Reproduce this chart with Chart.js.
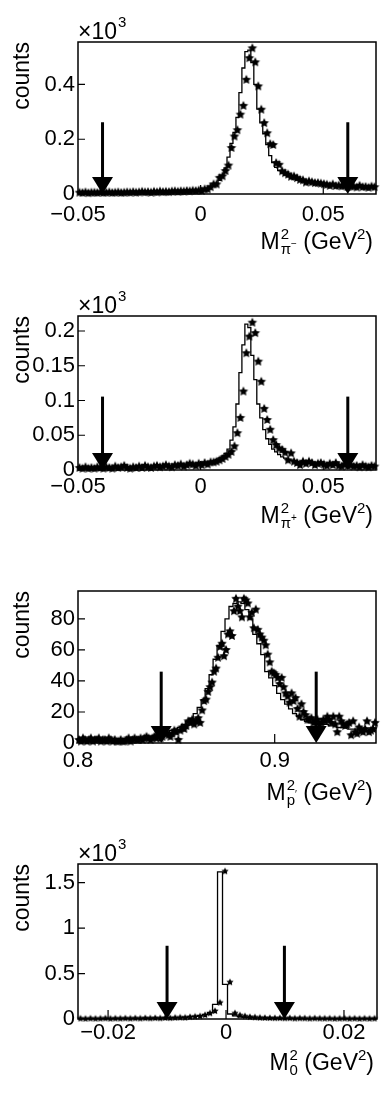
<!DOCTYPE html>
<html><head><meta charset="utf-8">
<script src="https://cdn.jsdelivr.net/npm/chart.js@4.4.0/dist/chart.umd.min.js"></script>
<style>
html,body{margin:0;padding:0;background:#fff;}
body{width:382px;height:1098px;position:relative;overflow:hidden;}
canvas{position:absolute;left:0;}
</style></head><body>
<canvas id="c1" width="382" height="270" style="top:0px;width:382px;height:270px"></canvas>
<canvas id="c2" width="382" height="270" style="top:270px;width:382px;height:270px"></canvas>
<canvas id="c3" width="382" height="280" style="top:540px;width:382px;height:280px"></canvas>
<canvas id="c4" width="382" height="278" style="top:820px;width:382px;height:278px"></canvas>
<script>
// ---------- Panel 1 : M^2(pi-) ----------
const p1Range = [-0.05, 0.0715];
const p1Hist = [
0.004,0.004,0.005,0.004,0.005,0.004,0.005,0.005,0.004,0.005,
0.005,0.005,0.006,0.005,0.005,0.006,0.005,0.006,0.006,0.006,
0.006,0.006,0.007,0.006,0.007,0.007,0.007,0.008,0.007,0.008,
0.008,0.008,0.009,0.009,0.009,0.010,0.010,0.011,0.011,0.012,
0.012,0.013,0.015,0.017,0.020,0.024,0.030,0.038,0.050,0.068,
0.095,0.135,0.185,0.225,0.280,0.370,0.460,0.520,0.525,0.480,
0.400,0.310,0.260,0.220,0.180,0.140,0.115,0.097,0.085,0.076,
0.069,0.063,0.058,0.054,0.051,0.048,0.046,0.044,0.042,0.040,
0.039,0.037,0.036,0.035,0.034,0.033,0.032,0.031,0.030,0.030,
0.029,0.028,0.028,0.027,0.027,0.026,0.026,0.025,0.025,0.024];
const p1Data = [
0.005,0.004,0.006,0.003,0.005,0.005,0.004,0.006,0.004,0.005,
0.006,0.004,0.005,0.006,0.004,0.005,0.006,0.005,0.007,0.005,
0.006,0.008,0.006,0.007,0.005,0.008,0.006,0.009,0.007,0.008,
0.007,0.009,0.010,0.008,0.010,0.009,0.011,0.010,0.012,0.011,
0.013,0.011,0.017,0.017,0.025,0.035,0.035,0.059,0.065,0.084,
0.104,0.168,0.210,0.233,0.290,0.322,0.417,0.496,0.532,0.481,
0.393,0.308,0.259,0.222,0.182,0.179,0.113,0.107,0.083,0.076,
0.071,0.063,0.064,0.058,0.052,0.050,0.042,0.046,0.043,0.040,
0.040,0.038,0.036,0.034,0.030,0.035,0.029,0.031,0.028,0.030,
0.026,0.028,0.027,0.024,0.030,0.025,0.026,0.023,0.027,0.025];
const p1XTicks = [-0.05, 0, 0.05];
const p1XLabels = ['\u22120.05', '0', '0.05'];
const p1YTicks = [0, 0.2, 0.4];
const p1YLabels = ['0', '0.2', '0.4'];
const p1YMax = 0.555;
const p1Arrows = [-0.04, 0.06];
const p1ArrowTop = 0.262;

// ---------- Panel 2 : M^2(pi+) ----------
const p2Range = [-0.05, 0.0715];
const p2Hist = [
0.002,0.003,0.002,0.003,0.002,0.003,0.003,0.002,0.003,0.003,
0.003,0.003,0.004,0.003,0.003,0.004,0.003,0.004,0.004,0.004,
0.004,0.004,0.005,0.004,0.005,0.005,0.005,0.005,0.005,0.006,
0.006,0.006,0.006,0.007,0.007,0.007,0.007,0.007,0.007,0.007,
0.007,0.008,0.008,0.009,0.010,0.011,0.013,0.015,0.017,0.020,
0.024,0.030,0.043,0.062,0.095,0.140,0.180,0.210,0.205,0.165,
0.130,0.095,0.075,0.058,0.045,0.037,0.030,0.026,0.022,0.019,
0.017,0.015,0.014,0.013,0.012,0.011,0.011,0.010,0.010,0.009,
0.009,0.008,0.008,0.008,0.007,0.007,0.007,0.007,0.006,0.006,
0.006,0.006,0.006,0.005,0.005,0.005,0.005,0.005,0.005,0.005];
const p2Data = [
0.003,0.002,0.004,0.002,0.003,0.002,0.004,0.003,0.002,0.004,
0.003,0.002,0.005,0.003,0.004,0.006,0.003,0.002,0.004,0.003,
0.005,0.003,0.006,0.004,0.003,0.005,0.006,0.004,0.005,0.007,
0.005,0.004,0.007,0.006,0.008,0.005,0.007,0.009,0.008,0.006,
0.009,0.007,0.010,0.008,0.011,0.011,0.012,0.014,0.016,0.019,
0.022,0.026,0.034,0.053,0.075,0.113,0.168,0.192,0.212,0.197,
0.156,0.127,0.088,0.072,0.058,0.043,0.036,0.031,0.029,0.025,
0.014,0.024,0.012,0.010,0.007,0.012,0.009,0.012,0.010,0.007,
0.009,0.010,0.008,0.006,0.009,0.007,0.010,0.006,0.005,0.008,
0.006,0.007,0.005,0.006,0.004,0.007,0.005,0.004,0.006,0.005];
const p2XTicks = [-0.05, 0, 0.05];
const p2XLabels = ['\u22120.05', '0', '0.05'];
const p2YTicks = [0, 0.05, 0.1, 0.15, 0.2];
const p2YLabels = ['0', '0.05', '0.1', '0.15', '0.2'];
const p2YMax = 0.2216;
const p2Arrows = [-0.04, 0.06];
const p2ArrowTop = 0.1056;

// ---------- Panel 3 : M^2(p') ----------
const p3Range = [0.8, 0.9515];
const p3Hist = [
2,2,2,2,2,2,2,2,2,2,
2,2,2,3,3,3,3,3,4,4,
5,5,6,7,8,9,10,12,14,16,
19,23,28,35,44,54,63,72,80,88,
90,91,90,86,80,70,64,57,46,42,
37,32,28,25,22,19,17,15,14,13,
13,12,12,12,11,11,10,10,10,9,
9,9,8,8,8];
const p3Data = [
2,1,3,2,1,2,3,1,2,2,
3,1,2,2,1,3,2,1,2,1,
1,2,1,1,2,3,1,2,3,2,
2,3,2,3,4,3,2,3,4,3,
5,3,4,7,6,5,4,6,8,7,
2,8,10,9,11,14,13,15,12,14,
16,13,21,27,28,33,36,39,46,48,
55,62,64,56,60,70,72,69,85,93,
88,85,81,93,92,90,81,84,74,86,
73,70,68,66,63,57,52,46,45,44,
42,38,42,36,32,30,26,32,27,29,
22,17,25,20,18,15,15,16,13,14,
15,12,13,15,14,17,15,13,17,12,
7,17,14,12,11,12,13,5,14,7,
6,10,8,7,9,14,7,8,9,13];
const p3XTicks = [0.8, 0.9];
const p3XLabels = ['0.8', '0.9'];
const p3YTicks = [0, 20, 40, 60, 80];
const p3YLabels = ['0', '20', '40', '60', '80'];
const p3YMax = 98;
const p3Arrows = [0.8423, 0.9211];
const p3ArrowTop = 46;

// ---------- Panel 4 : M^2(0) ----------
const p4Range = [-0.0251, 0.0256];
const p4Hist = [
0.004,0.004,0.004,0.005,0.005,0.005,0.005,0.005,0.006,0.006,
0.006,0.006,0.007,0.007,0.008,0.008,0.009,0.010,0.011,0.012,
0.014,0.016,0.019,0.023,0.028,0.036,0.048,0.070,0.160,1.620,
0.380,0.055,0.035,0.025,0.019,0.015,0.012,0.010,0.009,0.008,
0.008,0.007,0.007,0.006,0.006,0.006,0.005,0.005,0.005,0.005,
0.005,0.004,0.004,0.004,0.004,0.004,0.004,0.004,0.004,0.004];
const p4Data = [
0.005,0.003,0.006,0.004,0.005,0.007,0.004,0.006,0.005,0.007,
0.005,0.008,0.006,0.009,0.007,0.010,0.008,0.012,0.010,0.014,
0.016,0.015,0.022,0.026,0.030,0.044,0.063,0.088,0.180,1.626,
0.405,0.063,0.040,0.030,0.022,0.018,0.014,0.012,0.011,0.009,
0.010,0.008,0.009,0.006,0.008,0.007,0.005,0.007,0.006,0.005,
0.006,0.004,0.005,0.006,0.004,0.005,0.003,0.005,0.004,0.005];
const p4XTicks = [-0.02, 0, 0.02];
const p4XLabels = ['\u22120.02', '0', '0.02'];
const p4YTicks = [0, 0.5, 1, 1.5];
const p4YLabels = ['0', '0.5', '1', '1.5'];
const p4YMax = 1.706;
const p4Arrows = [-0.01, 0.0099];
const p4ArrowTop = 0.806;

// ---------- rendering ----------
const FONT = '"Liberation Sans", Arial, Helvetica, sans-serif';
Chart.defaults.font.family = FONT;
Chart.defaults.color = '#000';
const F = s => s + 'px ' + FONT;

function makeStar(r) {
  const s = Math.ceil(r * 2) + 2;
  const c = document.createElement('canvas');
  c.width = s; c.height = s;
  const g = c.getContext('2d');
  g.fillStyle = '#000';
  g.beginPath();
  for (let k = 0; k < 10; k++) {
    const rr = (k % 2) ? r * 0.5 : r;
    const a = -Math.PI / 2 + k * Math.PI / 5;
    g.lineTo(s / 2 + rr * Math.cos(a), s / 2 + rr * Math.sin(a));
  }
  g.closePath(); g.fill();
  return c;
}

function drawXTitle(ctx, right, base, sub, subSup) {
  ctx.save();
  ctx.fillStyle = '#000'; ctx.textAlign = 'left'; ctx.textBaseline = 'alphabetic';
  ctx.font = F(23);
  const wM = ctx.measureText('M').width, wRest = ctx.measureText(' (GeV').width, wPar = ctx.measureText(')').width;
  ctx.font = F(15);
  const wSup = ctx.measureText('2').width, wSub = ctx.measureText(sub).width;
  ctx.font = F(10);
  const wSS = subSup ? ctx.measureText(subSup).width : 0;
  const wMid = Math.max(wSup, wSub + wSS) + 1;
  let x = right - (wM + wMid + wRest + wSup + wPar);
  ctx.font = F(23); ctx.fillText('M', x, base); x += wM;
  ctx.font = F(15); ctx.fillText('2', x + 1, base - 10); ctx.fillText(sub, x + 1, base + 5);
  if (subSup) { ctx.font = F(10); ctx.fillText(subSup, x + 1 + wSub, base - 2); }
  x += wMid;
  ctx.font = F(23); ctx.fillText(' (GeV', x, base); x += wRest;
  ctx.font = F(15); ctx.fillText('2', x, base - 10); x += wSup;
  ctx.font = F(23); ctx.fillText(')', x, base);
  ctx.restore();
}

function buildPanel(id, cfg) {
  const [lo, hi] = cfg.range;
  const nH = cfg.hist.length, wH = (hi - lo) / nH;
  const histPts = cfg.hist.map((v, i) => ({x: lo + i * wH, y: v}));
  histPts.push({x: hi, y: cfg.hist[nH - 1]});
  const nD = cfg.data.length, wD = (hi - lo) / nD;
  const dataPts = cfg.data.map((v, i) => ({x: lo + (i + 0.5) * wD, y: v}));
  const star = makeStar(cfg.starR);

  const decor = {
    id: 'decor',
    afterDatasetsDraw(chart) {
      const {ctx, scales: {x, y}} = chart;
      ctx.save();
      ctx.fillStyle = '#000';
      const yb = y.getPixelForValue(0), yt = y.getPixelForValue(cfg.arrowTop);
      cfg.arrows.forEach(v => {
        const px = x.getPixelForValue(v);
        ctx.fillRect(px - 1.5, yt, 3, yb - 16 - yt);
        ctx.beginPath();
        ctx.moveTo(px - 10.5, yb - 17); ctx.lineTo(px + 10.5, yb - 17); ctx.lineTo(px, yb);
        ctx.closePath(); ctx.fill();
      });
      ctx.restore();
    },
    afterDraw(chart) {
      const {ctx, chartArea: a, scales: {x, y}} = chart;
      ctx.save();
      ctx.strokeStyle = '#000';
      ctx.lineWidth = 1.5;
      ctx.strokeRect(a.left, a.top, a.right - a.left, a.bottom - a.top);
      ctx.lineWidth = 1.2;
      ctx.beginPath();
      x.ticks.forEach(t => {
        const px = x.getPixelForValue(t.value);
        if (px > a.left + 2 && px < a.right - 2) { ctx.moveTo(px, a.bottom); ctx.lineTo(px, a.bottom - 9); }
      });
      y.ticks.forEach(t => {
        const py = y.getPixelForValue(t.value);
        if (py > a.top + 2 && py < a.bottom - 2) { ctx.moveTo(a.left, py); ctx.lineTo(a.left + 7, py); }
      });
      ctx.stroke();
      ctx.restore();
      drawXTitle(ctx, a.right - 3, a.bottom + cfg.titleDy, cfg.sub, cfg.subSup);
      if (cfg.mult) {
        ctx.save();
        ctx.fillStyle = '#000'; ctx.textAlign = 'left'; ctx.textBaseline = 'alphabetic';
        ctx.font = F(23);
        const base = a.top - 3;
        ctx.fillText('\u00d710', a.left, base);
        const w = ctx.measureText('\u00d710').width;
        ctx.font = F(15);
        ctx.fillText('3', a.left + w + 1, base - 12);
        ctx.restore();
      }
    }
  };

  return new Chart(document.getElementById(id), {
    type: 'scatter',
    data: {datasets: [
      {type: 'scatter', data: dataPts, pointStyle: star, pointRadius: cfg.starR, clip: 12},
      {type: 'line', data: histPts, stepped: 'after', borderColor: '#000', borderWidth: 1.3,
       pointRadius: 0, fill: false, clip: 4}
    ]},
    options: {
      responsive: false, animation: false, events: [],
      layout: {padding: {left: 0, right: 4, top: cfg.frameTop, bottom: 0}},
      plugins: {legend: {display: false}, tooltip: {enabled: false}},
      scales: {
        x: {
          type: 'linear', position: 'bottom', min: lo, max: hi,
          afterBuildTicks: s => { s.ticks = cfg.xTicks.map(v => ({value: v})); },
          ticks: {autoSkip: false, maxRotation: 0, padding: cfg.xPad, color: '#000',
                  font: {size: 22}, callback: (v, i) => cfg.xLabels[i]},
          grid: {display: false, drawTicks: false},
          border: {display: false},
          afterFit: s => { s.height = cfg.H - cfg.frameBottom; }
        },
        y: {
          type: 'linear', position: 'left', min: 0, max: cfg.ymax,
          afterBuildTicks: s => { s.ticks = cfg.yTicks.map(v => ({value: v})); },
          ticks: {autoSkip: false, padding: 3, color: '#000', font: {size: 22},
                  callback: (v, i) => cfg.yLabels[i]},
          grid: {display: false, drawTicks: false},
          border: {display: false},
          title: {display: true, text: 'counts', align: 'end', color: '#000',
                  font: {size: 23}, padding: {top: 9, bottom: 0}},
          afterFit: s => { s.width = 78; }
        }
      }
    },
    plugins: [decor]
  });
}

buildPanel('c1', {range: p1Range, hist: p1Hist, data: p1Data, xTicks: p1XTicks, xLabels: p1XLabels,
  yTicks: p1YTicks, yLabels: p1YLabels, ymax: p1YMax, arrows: p1Arrows, arrowTop: p1ArrowTop,
  H: 270, frameTop: 42, frameBottom: 194, xPad: 8, titleDy: 55, sub: '\u03c0', subSup: '\u2212', mult: true, starR: 5});
buildPanel('c2', {range: p2Range, hist: p2Hist, data: p2Data, xTicks: p2XTicks, xLabels: p2XLabels,
  yTicks: p2YTicks, yLabels: p2YLabels, ymax: p2YMax, arrows: p2Arrows, arrowTop: p2ArrowTop,
  H: 270, frameTop: 46, frameBottom: 200, xPad: 4, titleDy: 53, sub: '\u03c0', subSup: '+', mult: true, starR: 5});
buildPanel('c3', {range: p3Range, hist: p3Hist, data: p3Data, xTicks: p3XTicks, xLabels: p3XLabels,
  yTicks: p3YTicks, yLabels: p3YLabels, ymax: p3YMax, arrows: p3Arrows, arrowTop: p3ArrowTop,
  H: 280, frameTop: 51, frameBottom: 203, xPad: 5, titleDy: 57, sub: 'p', subSup: '\u2032', mult: false, starR: 5});
buildPanel('c4', {range: p4Range, hist: p4Hist, data: p4Data, xTicks: p4XTicks, xLabels: p4XLabels,
  yTicks: p4YTicks, yLabels: p4YLabels, ymax: p4YMax, arrows: p4Arrows, arrowTop: p4ArrowTop,
  H: 278, frameTop: 44, frameBottom: 199, xPad: 1, titleDy: 51, sub: '0', subSup: '', mult: true, starR: 3.8});
</script>
</body></html>
